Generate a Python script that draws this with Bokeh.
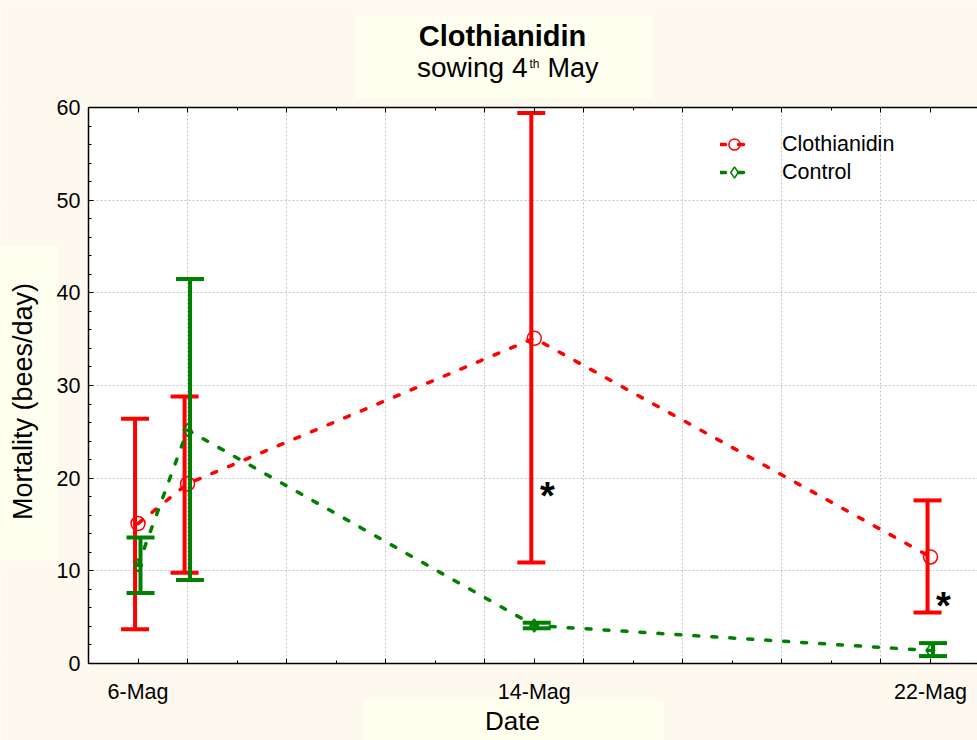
import numpy as np
from bokeh.plotting import figure
from bokeh.models import (Range1d, FixedTicker, SingleIntervalTicker, LinearAxis,
                          Label, BoxAnnotation, Legend, LegendItem)
from bokeh.embed import file_html
from bokeh.resources import INLINE
from bokeh.core.properties import value

# ---- data ----
days = [6, 7, 14, 22]
date_labels = {6: "6-Mag", 14: "14-Mag", 22: "22-Mag"}
clo_mean = [15.1, 19.4, 35.1, 11.5]
clo_low = [3.7, 9.8, 10.9, 5.5]
clo_high = [26.4, 28.8, 59.4, 17.6]
ctl_mean = [10.6, 25.2, 4.1, 1.4]
ctl_low = [7.6, 9.0, 3.8, 0.8]
ctl_high = [13.6, 41.5, 4.4, 2.2]
sig_days = [14, 22]
sig_y = [18.7, 6.8]

FONT = "Liberation Sans"
RED = "#FF0000"
GREEN = "#008000"
BG = "#FDF9EE"
BOX = "#FFFFF0"

W, H = 977, 740
# plot area in canvas pixels: left 88, top 107, bottom 663, right = canvas edge
PL, PT, PB = 88, 107, 663
PX_DAY = 49.53
PX_UNIT = (PB - PT) / 60.0
X0, Y0 = 5, 0
XMIN = X0 - PL / PX_DAY
XMAX = X0 + (W - PL) / PX_DAY
YMIN = Y0 - (H - PB) / PX_UNIT
YMAX = 60 + PT / PX_UNIT

p = figure(width=W, height=H, output_backend="svg", toolbar_location=None,
           x_range=Range1d(XMIN, XMAX), y_range=Range1d(YMIN, YMAX),
           min_border=0, min_border_left=0, min_border_right=0,
           min_border_top=0, min_border_bottom=0,
           background_fill_color=BG, border_fill_color=BG,
           outline_line_color=None)

# white plot area
p.add_layout(BoxAnnotation(left=X0, right=XMAX, bottom=Y0, top=60, fill_color="white",
                           fill_alpha=1, line_color=None, level="image"))

# ---- axes ----
odd_days = list(range(7, 22, 2))
even_days = [d for d in range(8, 22, 2) if d not in date_labels]
major = sorted(set(odd_days) | set(date_labels))
overrides = {d: date_labels.get(d, "") for d in major}

xax = p.xaxis[0]
xax.ticker = FixedTicker(ticks=major, minor_ticks=even_days)
xax.major_label_overrides = overrides
xax.fixed_location = Y0
xax.bounds = (X0, XMAX)
yax = p.yaxis[0]
yax.ticker = SingleIntervalTicker(interval=10, num_minor_ticks=5)
yax.fixed_location = X0
yax.bounds = (0, 60)

top = LinearAxis(ticker=FixedTicker(ticks=major, minor_ticks=even_days),
                 fixed_location=60, bounds=(X0, XMAX))
p.add_layout(top, "above")

for ax in (xax, yax, top):
    ax.axis_line_color = "black"
    ax.axis_line_width = 1.5
    ax.major_tick_in = 5
    ax.major_tick_out = 0
    ax.minor_tick_in = 3
    ax.minor_tick_out = 0
    ax.major_tick_line_color = "black"
    ax.minor_tick_line_color = "black"
    ax.major_label_text_font = FONT
    ax.major_label_text_font_size = "21.5px"
    ax.major_label_text_color = "black" if ax is not top else None
xax.major_label_standoff = 16
yax.major_label_standoff = 8

p.xgrid.ticker = FixedTicker(ticks=odd_days)
for g in (p.xgrid[0], p.ygrid[0]):
    g.grid_line_color = "#C4C4C4"
    g.grid_line_dash = "2 2"
    g.grid_line_width = 1

# cover grid lines outside the plot area
for l, r, b, t in [(XMIN, XMAX, 60, YMAX), (XMIN, XMAX, YMIN, Y0), (XMIN, X0, YMIN, YMAX)]:
    p.add_layout(BoxAnnotation(left=l, right=r, bottom=b, top=t, fill_color=BG,
                               fill_alpha=1, line_color=None, level="underlay"))

# ---- label boxes (screen px: x from left, y from bottom) ----
for l, r, t, b in [(0, 57, 495, 180), (355, 652, 725, 642), (363, 663, 40, 0)]:
    p.add_layout(BoxAnnotation(left=l, right=r, top=t, bottom=b,
                               left_units="screen", right_units="screen",
                               top_units="screen", bottom_units="screen",
                               fill_color=BOX, fill_alpha=1, line_color=None,
                               level="underlay"))

# ---- series ----
dash = "5 13"
clo_line = p.line(days, clo_mean, line_color=RED, line_width=3.5, line_dash=dash, line_cap="round")
clo_bx = np.array(days) - 0.06
p.segment(clo_bx, clo_low, clo_bx, clo_high, line_color=RED, line_width=4)
p.scatter(np.concatenate([clo_bx, clo_bx]), clo_low + clo_high, marker="dash",
          size=28, line_color=RED, line_width=4)
clo_pts = p.scatter(days, clo_mean, marker="circle", size=14, line_color=RED,
                    fill_color=None, line_width=1.5)

ctl_line = p.line(days, ctl_mean, line_color=GREEN, line_width=3.5, line_dash=dash, line_cap="round")
ctl_bx = np.array(days) + 0.05
p.segment(ctl_bx, ctl_low, ctl_bx, ctl_high, line_color=GREEN, line_width=4)
p.scatter(np.concatenate([ctl_bx, ctl_bx]), ctl_low + ctl_high, marker="dash",
          size=28, line_color=GREEN, line_width=4)
ctl_pts = p.scatter(days, ctl_mean, marker="diamond", size=13, line_color=GREEN,
                    fill_color=None, line_width=1.5)

# significance asterisks
p.text(sig_days, sig_y, text=["*"] * len(sig_days), x_offset=13, y_offset=6,
       text_font=value(FONT), text_font_style="bold", text_font_size="38px",
       text_align="center", text_baseline="middle", text_color="black")

# ---- legend ----
legend = Legend(items=[LegendItem(label="Clothianidin", renderers=[clo_line, clo_pts]),
                       LegendItem(label="Control", renderers=[ctl_line, ctl_pts])],
                location=(720, 554), padding=0, margin=0, spacing=0,
                glyph_width=28, glyph_height=28, label_height=23, label_standoff=34,
                label_text_font=FONT, label_text_font_size="21.5px", label_text_color="black",
                border_line_color=None, background_fill_alpha=0)
p.add_layout(legend)

# ---- titles ----
def lab(text, x, y, size, **kw):
    p.add_layout(Label(text=text, x=x, y=y, x_units="screen", y_units="screen",
                       text_font=FONT, text_font_size=size, text_color="black", **kw))

lab("Clothianidin", 502, 689, "29px", text_align="center", text_font_style="bold")
lab("sowing 4", 527, 658, "28px", text_align="right")
lab("th", 529, 670, "12px", text_align="left")
lab("May", 547, 658, "27px", text_align="left")
lab("Mortality (bees/day)", 22, 339, "27px", text_align="center",
    text_baseline="middle", angle=np.pi / 2)
lab("Date", 512, 5, "26px", text_align="center")

open("out.html", "w").write(file_html(p, INLINE))
